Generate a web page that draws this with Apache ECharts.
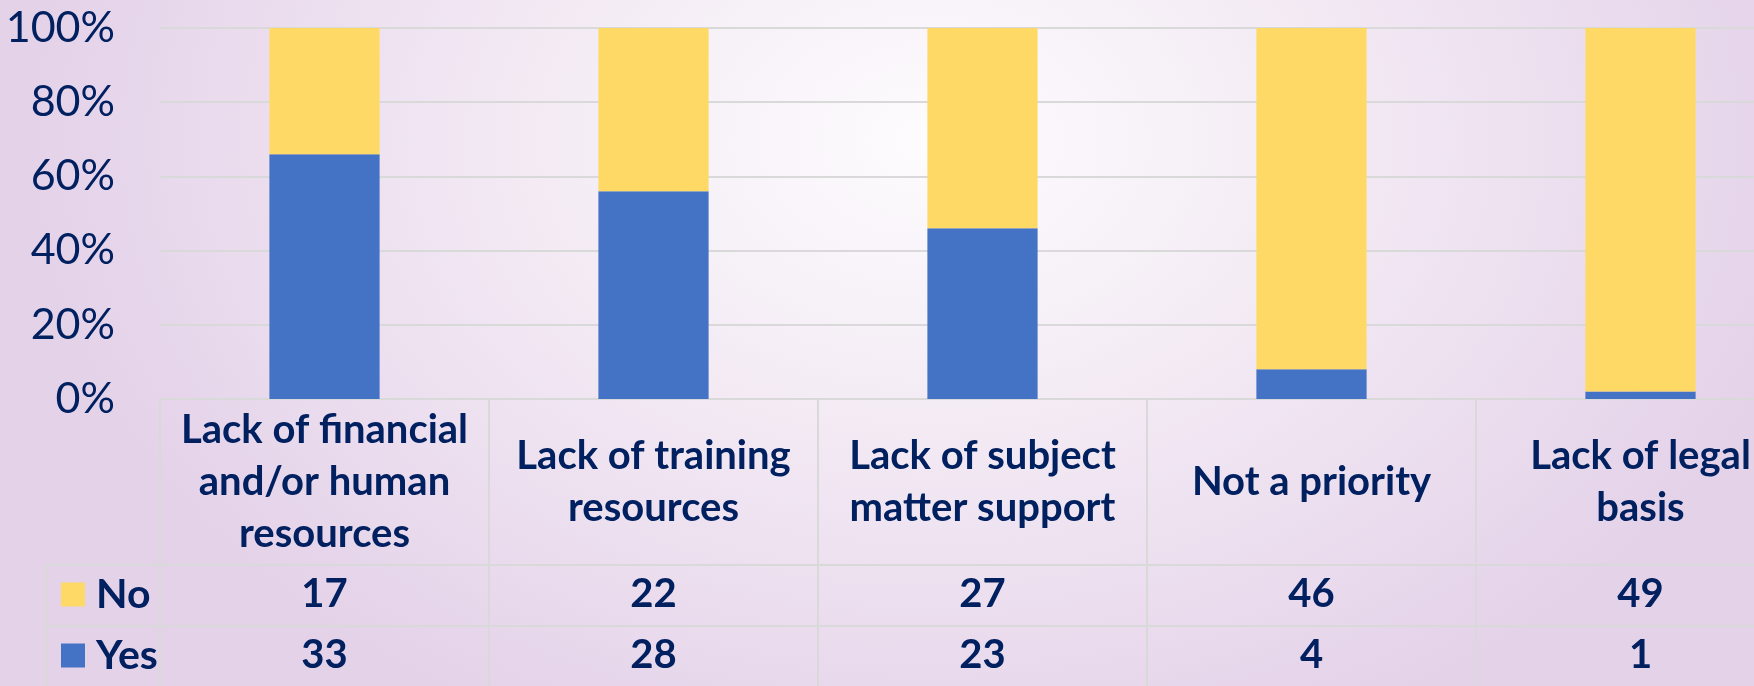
<!DOCTYPE html>
<html>
<head>
<meta charset="utf-8">
<script src="https://cdn.jsdelivr.net/npm/echarts@6/dist/echarts.min.js"></script>
<style>
  html, body { margin: 0; padding: 0; overflow: hidden; width: 1754px; height: 686px; }
  #main {
    width: 1810px; height: 686px;
    background: radial-gradient(ellipse 900px 650px at 930px 140px, #fdfcfe 0%, #f3eaf4 45%, #e4d2e9 100%);
  }
</style>
</head>
<body>
<div id="main"></div>
<script>
var categories = ['Lack of financial\nand/or human\nresources', 'Lack of training\nresources',
  'Lack of subject\nmatter support', 'Not a priority', 'Lack of legal\nbasis'];
var noCounts = [17, 22, 27, 46, 49];
var yesCounts = [33, 28, 23, 4, 1];
var yTicks = [0, 20, 40, 60, 80, 100];

var navy = '#002060';
var lineGray = '#d9d9d9';
var font = 'Lato, "Open Sans", sans-serif';

// 100% stacked: share of each answer per category
var yesPct = yesCounts.map(function (v, i) { return v / (v + noCounts[i]) * 100; });
var noPct = noCounts.map(function (v, i) { return v / (v + yesCounts[i]) * 100; });

var chart = echarts.init(document.getElementById('main'), null, { renderer: 'canvas' });

var gridTop = 28, gridBottomY = 399, headerY = 565, noY = 626, tableBottom = 686;

var legendText = { color: navy, fontSize: 41, fontWeight: 'bold', fontFamily: font, lineHeight: 40, padding: [0, 0, 0, 6] };

var option = {
  animation: false,
  grid: { left: 160, top: gridTop, width: 1645, height: gridBottomY - gridTop },
  legend: [
    { left: 56, top: 569, itemWidth: 24, itemHeight: 24, icon: 'rect', data: ['No'], textStyle: legendText },
    { left: 56, top: 630, itemWidth: 24, itemHeight: 24, icon: 'rect', data: ['Yes'], textStyle: legendText }
  ],
  yAxis: {
    type: 'value', min: 0, max: 100, interval: 20,
    axisLine: { show: false }, axisTick: { show: false },
    axisLabel: {
      color: navy, fontSize: 43, fontFamily: font, margin: 45,
      formatter: function (v) { return yTicks.indexOf(v) >= 0 ? v + '%' : ''; }
    },
    splitLine: { lineStyle: { color: lineGray, width: 2 } }
  },
  xAxis: [
    {
      type: 'category', data: categories, position: 'bottom',
      axisLine: { lineStyle: { color: lineGray, width: 2 } },
      axisTick: { show: true, length: tableBottom - gridBottomY, lineStyle: { color: lineGray, width: 2 } },
      axisLabel: {
        interval: 0, color: navy, fontSize: 40, fontWeight: 'bold', fontFamily: font,
        lineHeight: 52, verticalAlign: 'middle', margin: 83
      }
    },
    {
      type: 'category', data: categories, position: 'bottom',
      axisLine: { show: false }, axisTick: { show: false },
      axisLabel: {
        interval: 0, color: navy, fontSize: 40, fontWeight: 'bold', fontFamily: font,
        verticalAlign: 'middle', margin: 195,
        formatter: function (v, i) { return String(noCounts[i]); }
      }
    },
    {
      type: 'category', data: categories, position: 'bottom',
      axisLine: { show: false }, axisTick: { show: false },
      axisLabel: {
        interval: 0, color: navy, fontSize: 40, fontWeight: 'bold', fontFamily: font,
        verticalAlign: 'middle', margin: 256,
        formatter: function (v, i) { return String(yesCounts[i]); }
      }
    }
  ],
  series: [
    { name: 'Yes', type: 'bar', stack: 'total', barWidth: '33.5%', data: yesPct,
      itemStyle: { color: '#4472c4' } },
    { name: 'No', type: 'bar', stack: 'total', barWidth: '33.5%', data: noPct,
      itemStyle: { color: '#ffd966' } }
  ],
  graphic: [
    // table rules under the plot
    { type: 'line', shape: { x1: 46, y1: headerY, x2: 1810, y2: headerY }, style: { stroke: lineGray, lineWidth: 2 }, silent: true },
    { type: 'line', shape: { x1: 46, y1: noY, x2: 1810, y2: noY }, style: { stroke: lineGray, lineWidth: 2 }, silent: true },
    { type: 'line', shape: { x1: 46, y1: headerY, x2: 46, y2: tableBottom }, style: { stroke: lineGray, lineWidth: 2 }, silent: true }
  ]
};

chart.setOption(option);
</script>
</body>
</html>
